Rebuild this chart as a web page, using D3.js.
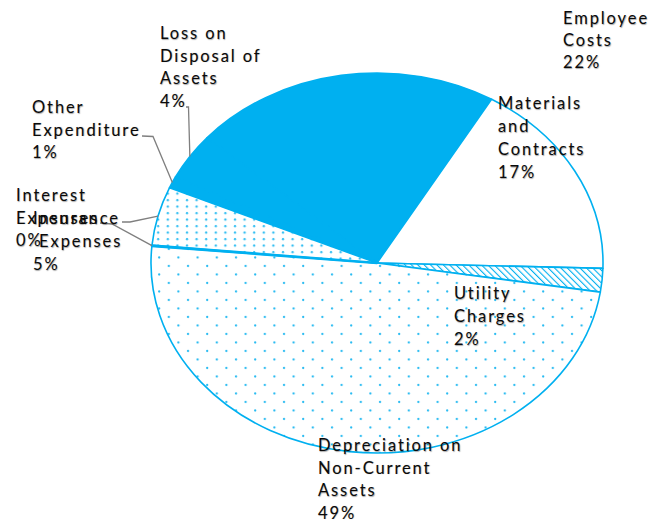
<!DOCTYPE html>
<html>
<head>
<meta charset="utf-8">
<script src="https://cdn.jsdelivr.net/npm/d3@7"></script>
<style>
  html, body { margin: 0; padding: 0; background: #fff; }
  svg text { font-family: Lato, "Open Sans", sans-serif; font-size: 16.5px; letter-spacing: 1.9px; fill: #0a0a0a;
             text-shadow: 0.6px 0.8px 1px rgba(0,0,0,0.35); }
</style>
</head>
<body>
<svg id="chart" width="669" height="522"></svg>
<script>
// ---- data (clockwise order, Excel series order) ----
const categories = ["Employee Costs", "Materials and Contracts", "Utility Charges",
  "Depreciation on Non-Current Assets", "Interest Expenses", "Insurance Expenses",
  "Other Expenditure", "Loss on Disposal of Assets"];
const values = [22, 17, 2, 49, 0.05, 5, 1, 4];
const percentLabels = ["22%", "17%", "2%", "49%", "0%", "5%", "1%", "4%"];
const labelLines = [
  ["Employee", "Costs"],
  ["Materials", "and", "Contracts"],
  ["Utility", "Charges"],
  ["Depreciation on", "Non-Current", "Assets"],
  ["Interest", "Expenses"],
  ["Insurance", " Expenses"],
  ["Other", "Expenditure"],
  ["Loss on", "Disposal of", "Assets"]
];

const svg = d3.select("#chart");
const cx = 377, cy = 263, rx = 226, ry = 190;
const sx = rx / ry;
const blue = "#00B0F0";

const defs = svg.append("defs");
// dense dot grid (insurance)
const p1 = defs.append("pattern").attr("id", "dotsDense").attr("patternUnits", "userSpaceOnUse")
  .attr("width", 9.6).attr("height", 6.5).attr("patternTransform", `scale(${1 / sx},1)`);
p1.append("rect").attr("width", 9.6).attr("height", 6.5).attr("fill", "#fff");
p1.append("circle").attr("cx", 2).attr("cy", 2).attr("r", 1.15).attr("fill", "#2bbcf2");
// sparse staggered dots (depreciation)
const p2 = defs.append("pattern").attr("id", "dotsSparse").attr("patternUnits", "userSpaceOnUse")
  .attr("width", 19.2).attr("height", 17).attr("patternTransform", `scale(${1 / sx},1)`);
p2.append("rect").attr("width", 19.2).attr("height", 17).attr("fill", "#fff");
p2.append("circle").attr("cx", 3).attr("cy", 3).attr("r", 1.15).attr("fill", "#2bbcf2");
p2.append("circle").attr("cx", 12.6).attr("cy", 11.5).attr("r", 1.15).attr("fill", "#2bbcf2");
// wide downward diagonal hatch (utility)
const p3 = defs.append("pattern").attr("id", "hatch").attr("patternUnits", "userSpaceOnUse")
  .attr("width", 4.5).attr("height", 4.5).attr("patternTransform", `scale(${1 / sx},1) rotate(-45)`);
p3.append("rect").attr("width", 4.5).attr("height", 4.5).attr("fill", "#fff");
p3.append("line").attr("x1", 0).attr("y1", 0).attr("x2", 0).attr("y2", 4.5)
  .attr("stroke", blue).attr("stroke-width", 2.2);

const fills = [blue, "#fff", "url(#hatch)", "url(#dotsSparse)", blue, "url(#dotsDense)", blue, blue];

const startDeg = -48.7;
const pie = d3.pie().sort(null).value(d => d)
  .startAngle(startDeg * Math.PI / 180).endAngle((startDeg + 360) * Math.PI / 180);
const arcs = pie(values);
const arc = d3.arc().innerRadius(0).outerRadius(ry);

const g = svg.append("g").attr("transform", `translate(${cx},${cy}) scale(${sx},1)`);
// solid-blue slices first, then the others on top so their borders show
const order = [0, 6, 7, 1, 2, 3, 5, 4];
g.selectAll("path.slice").data(order.map(i => ({ a: arcs[i], i })))
  .join("path").attr("class", "slice")
  .attr("d", d => arc(d.a))
  .attr("fill", d => fills[d.i])
  .attr("stroke", blue)
  .attr("stroke-width", d => (d.i === 4 ? 2.4 : 1.6))
  .attr("stroke-linejoin", "round")
  .attr("vector-effect", "non-scaling-stroke");

// ---- leader lines ----
const leaderColor = "#7f7f7f";
function edgePoint(i, frac) {
  const a = arcs[i].startAngle + (arcs[i].endAngle - arcs[i].startAngle) * frac;
  return [cx + rx * Math.sin(a), cy - ry * Math.cos(a)];
}
const leaders = [
  { i: 7, pts: [[186, 107], [188.5, 107]] },
  { i: 6, pts: [[142, 136], [153, 136.5]] },
  { i: 5, pts: [[122, 222], [130, 222]] },
  { i: 4, pts: [[100, 223], [112, 224]] }
];
leaders.forEach(l => {
  const pts = l.pts.concat([edgePoint(l.i, 0.5)]);
  svg.append("path").attr("d", d3.line()(pts)).attr("fill", "none")
    .attr("stroke", leaderColor).attr("stroke-width", 1.3);
});

// ---- labels ----
const labelPos = [
  { x: 563, y: 24, dy: 22 },
  { x: 498, y: 109, dy: 23 },
  { x: 454, y: 299, dy: 23 },
  { x: 318, y: 451, dy: 22.5 },
  { x: 16, y: 201, dy: 22.5 },
  { x: 33, y: 224, dy: 23 },
  { x: 32, y: 113, dy: 22.5 },
  { x: 160, y: 39, dy: 22.5 }
];
categories.forEach((c, i) => {
  const p = labelPos[i];
  const lines = labelLines[i].concat([percentLabels[i]]);
  const t = svg.append("text").attr("x", p.x).attr("y", p.y).attr("xml:space", "preserve");
  lines.forEach((ln, k) => {
    t.append("tspan").attr("x", p.x).attr("y", p.y + k * p.dy).text(ln);
  });
});
</script>
</body>
</html>
